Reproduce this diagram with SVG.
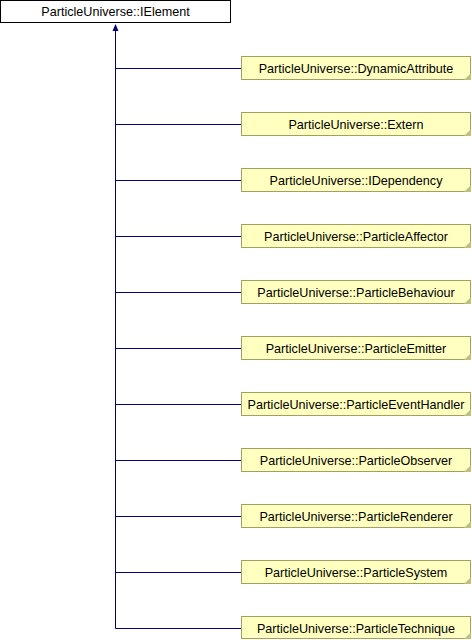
<svg xmlns="http://www.w3.org/2000/svg" width="472" height="640" viewBox="0 0 472 640">
<style>
.t{font-family:"Liberation Sans",Arial,sans-serif;font-size:12.6px;fill:#000;text-anchor:middle}
.c rect{fill:#ffffc0;stroke:#a0a060;stroke-width:1}
.c path{fill:#c0c080;stroke:none}
.e{stroke:#000080;stroke-width:1;fill:none}
</style>
<rect width="472" height="640" fill="#fff"/>
<g id="edges">
<path class="e" d="M115.5,628.5 V30"/>
<path d="M115.5,24 L118.5,31 L112.5,31 Z" fill="#000080"/>
<path class="e" d="M115.5,68.5 H241.5 M115.5,124.5 H241.5 M115.5,180.5 H241.5 M115.5,236.5 H241.5 M115.5,292.5 H241.5 M115.5,348.5 H241.5 M115.5,404.5 H241.5 M115.5,460.5 H241.5 M115.5,516.5 H241.5 M115.5,572.5 H241.5 M115.5,628.5 H241.5"/>
</g>
<g id="IElement">
<rect x="0.5" y="0.5" width="230" height="22" fill="#fff" stroke="#000"/>
<text class="t" x="115.5" y="16">ParticleUniverse::IElement</text>
</g>
<g id="DynamicAttribute" class="c"><rect x="241.5" y="56.5" width="229" height="23"/><path d="M471,73 V80 H464 Z"/><text class="t" x="356" y="72.5">ParticleUniverse::DynamicAttribute</text></g>
<g id="Extern" class="c"><rect x="241.5" y="112.5" width="229" height="23"/><path d="M471,129 V136 H464 Z"/><text class="t" x="356" y="128.5">ParticleUniverse::Extern</text></g>
<g id="IDependency" class="c"><rect x="241.5" y="168.5" width="229" height="23"/><path d="M471,185 V192 H464 Z"/><text class="t" x="356" y="184.5">ParticleUniverse::IDependency</text></g>
<g id="ParticleAffector" class="c"><rect x="241.5" y="224.5" width="229" height="23"/><path d="M471,241 V248 H464 Z"/><text class="t" x="356" y="240.5">ParticleUniverse::ParticleAffector</text></g>
<g id="ParticleBehaviour" class="c"><rect x="241.5" y="280.5" width="229" height="23"/><path d="M471,297 V304 H464 Z"/><text class="t" x="356" y="296.5">ParticleUniverse::ParticleBehaviour</text></g>
<g id="ParticleEmitter" class="c"><rect x="241.5" y="336.5" width="229" height="23"/><path d="M471,353 V360 H464 Z"/><text class="t" x="356" y="352.5">ParticleUniverse::ParticleEmitter</text></g>
<g id="ParticleEventHandler" class="c"><rect x="241.5" y="392.5" width="229" height="23"/><path d="M471,409 V416 H464 Z"/><text class="t" x="356" y="408.5">ParticleUniverse::ParticleEventHandler</text></g>
<g id="ParticleObserver" class="c"><rect x="241.5" y="448.5" width="229" height="23"/><path d="M471,465 V472 H464 Z"/><text class="t" x="356" y="464.5">ParticleUniverse::ParticleObserver</text></g>
<g id="ParticleRenderer" class="c"><rect x="241.5" y="504.5" width="229" height="23"/><path d="M471,521 V528 H464 Z"/><text class="t" x="356" y="520.5">ParticleUniverse::ParticleRenderer</text></g>
<g id="ParticleSystem" class="c"><rect x="241.5" y="560.5" width="229" height="23"/><path d="M471,577 V584 H464 Z"/><text class="t" x="356" y="576.5">ParticleUniverse::ParticleSystem</text></g>
<g id="ParticleTechnique" class="c"><rect x="241.5" y="616.5" width="229" height="22"/><path d="M471,632 V639 H464 Z"/><text class="t" x="356" y="632.5">ParticleUniverse::ParticleTechnique</text></g>
</svg>
